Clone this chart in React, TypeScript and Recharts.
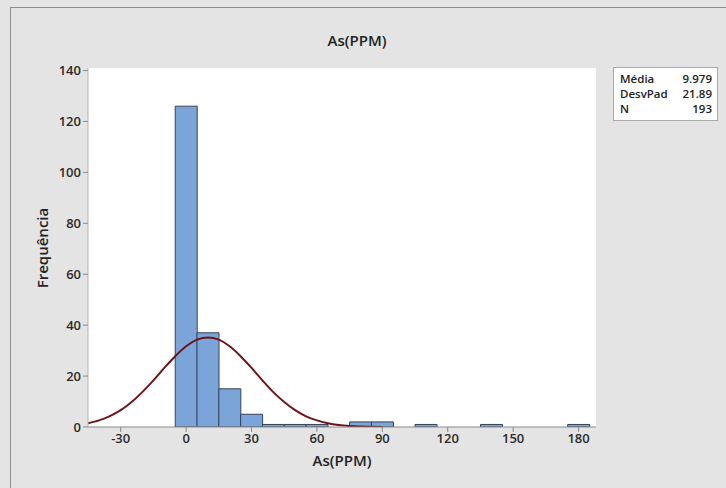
import { Bar, CartesianGrid, ComposedChart, Line, XAxis, YAxis } from 'recharts';

// histogram bins (width 10, centred on the value)
const binCenters = [0, 10, 20, 30, 40, 50, 60, 70, 80, 90, 100, 110, 120, 130, 140, 150, 160, 170, 180];
const binCounts = [126, 37, 15, 5, 1, 1, 1, 0, 2, 2, 0, 1, 0, 0, 1, 0, 0, 0, 1];

// fitted normal curve
const fitX = [-45, -40, -35, -30, -25, -20, -15, -10, -5, 0, 5, 10, 15, 20, 25, 30, 35, 40, 45, 50, 55, 60, 65, 70, 75, 80, 85, 90];
const fitY = [1.5, 2.6, 4.3, 6.6, 9.8, 13.8, 18.3, 23.2, 27.8, 31.7, 34.3, 35.2, 34.3, 31.7, 27.8, 23.2, 18.3, 13.7, 9.8, 6.6, 4.2, 2.6, 1.5, 0.8, 0.4, 0.2, 0.1, 0.0];

const xTicks = [-30, 0, 30, 60, 90, 120, 150, 180];
const yTicks = [0, 20, 40, 60, 80, 100, 120, 140];

const statLabels = ['Média', 'DesvPad', 'N'];
const statValues = ['9.979', '21.89', '193'];

const bins = binCenters.map((x, i) => ({ x, count: binCounts[i] }));
const fit = fitX.map((x, i) => ({ x, y: fitY[i] }));

const font = '"Open Sans", "Noto Sans", sans-serif';
const tickStyle = { fill: '#2b2b2b', fontSize: 13, fontFamily: font, fontWeight: 600 };

export default function App() {
  return (
    <div style={{ position: 'fixed', left: 0, top: 0, width: 726, height: 488, background: '#e4e4e4', overflow: 'hidden', fontFamily: font }}>
      <div style={{ position: 'absolute', left: 10, top: 7, width: 740, height: 500, border: '1px solid #8f8f8f' }} />
      <div style={{ position: 'absolute', left: 257, top: 30, width: 200, textAlign: 'center', fontSize: 15, fontWeight: 600, color: '#222' }}>
        As(PPM)
      </div>
      <div style={{ position: 'absolute', left: 242, top: 450, width: 200, textAlign: 'center', fontSize: 15, fontWeight: 600, color: '#222' }}>
        As(PPM)
      </div>
      <div style={{ position: 'absolute', left: -58, top: 238, width: 200, textAlign: 'center', fontSize: 15, fontWeight: 600, color: '#222', transform: 'rotate(-90deg)' }}>
        Frequência
      </div>
      <ComposedChart width={726} height={488} data={bins} margin={{ top: 68, right: 130, bottom: 31, left: 0 }} barCategoryGap={0} barGap={0} style={{ position: 'absolute', left: 0, top: 0 }}>
        <CartesianGrid fill="#ffffff" fillOpacity={1} horizontal={false} vertical={false} />
        <XAxis xAxisId={0} type="number" dataKey="x" domain={[-45, 188]} ticks={xTicks} allowDataOverflow height={30} tick={tickStyle} tickSize={5} tickLine={{ stroke: '#8a8a8a' }} axisLine={{ stroke: '#8a8a8a' }} interval={0} />
        <XAxis xAxisId="fit" orientation="top" type="number" dataKey="x" domain={[-45, 188]} allowDataOverflow height={0} tick={false} tickLine={false} axisLine={{ stroke: '#b4b4b4' }} />
        <YAxis yAxisId={0} type="number" domain={[0, 141]} ticks={yTicks} allowDataOverflow width={88} tick={tickStyle} tickSize={5} tickLine={{ stroke: '#8a8a8a' }} axisLine={{ stroke: '#b4b4b4' }} interval={0} />
        <YAxis yAxisId="right" orientation="right" type="number" domain={[0, 141]} width={0} tick={false} tickLine={false} axisLine={{ stroke: '#b4b4b4' }} />
        <Bar dataKey="count" fill="#7ba5d9" stroke="#34445a" strokeWidth={1} isAnimationActive={false} />
        <Line data={fit} xAxisId="fit" dataKey="y" type="monotone" stroke="#6f1519" strokeWidth={2} dot={false} activeDot={false} isAnimationActive={false} />
      </ComposedChart>
      <div style={{ position: 'absolute', left: 613, top: 67, width: 105, padding: '3px 5px 4px 6px', boxSizing: 'border-box', background: '#fff', border: '1px solid #a9a9a9', fontSize: 11.5, fontWeight: 600, color: '#222', lineHeight: '15px' }}>
        {statLabels.map((label, i) => (
          <div key={label} style={{ display: 'flex', justifyContent: 'space-between' }}>
            <span>{label}</span>
            <span>{statValues[i]}</span>
          </div>
        ))}
      </div>
    </div>
  );
}
